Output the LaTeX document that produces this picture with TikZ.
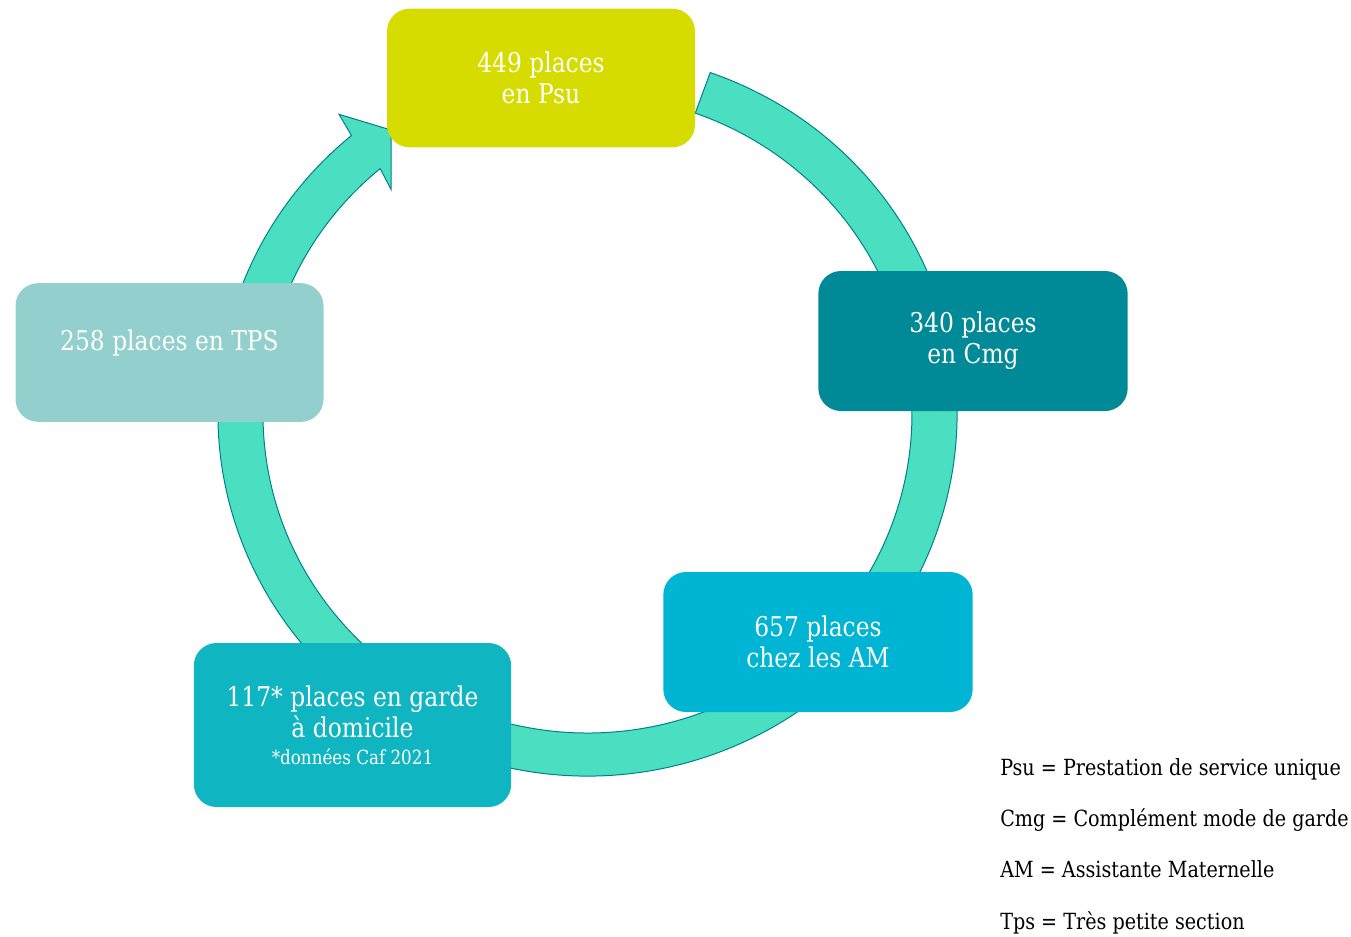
\documentclass[tikz,border=0pt]{standalone}
\usepackage{fontspec}
\setmainfont{DejaVu Serif}[FakeStretch=0.86]
\usepackage{tikz}
\usetikzlibrary{positioning}
\usepackage{xcolor}
\definecolor{psucol}{RGB}{214,220,0}
\definecolor{cmgcol}{RGB}{0,137,150}
\definecolor{amcol}{RGB}{0,180,212}
\definecolor{gardecol}{RGB}{16,181,194}
\definecolor{tpscol}{RGB}{146,207,205}
\definecolor{ringcol}{RGB}{73,223,192}
\definecolor{ringline}{RGB}{0,128,140}

\begin{document}
\begin{tikzpicture}[x=0.75pt, y=0.75pt,
		place/.style={rectangle, rounded corners=17pt, inner sep=0pt, minimum width=231pt, minimum height=104pt, align=center, text=white, font=\fontsize{20.4}{23.4}\selectfont},
		legend/.style={anchor=base west, inner sep=0pt, font=\fontsize{16.7}{19}\selectfont},
		ring/.style={fill=ringcol, draw=ringline, line width=0.75pt}]
		
		\useasboundingbox (0,0) rectangle (1351,-936);
		
		%ring
		\coordinate (c) at (587.5,-414);
		\coordinate (barbout) at (339,-114.3);
		\coordinate (tip) at (391,-130);
		\coordinate (barbin) at (391,-189.3);
		\coordinate (notchin) at (380.2,-168.6);
		\draw[ring] (c) ++(70.6:369.5 and 362) arc[start angle=70.6, end angle=-230.3, x radius=369.5, y radius=362]
			-- (barbout) -- (tip) -- (barbin) -- (notchin)
			arc[start angle=-230.3, end angle=70.6, x radius=324.5, y radius=319] -- cycle;
		
		%psu
		\node[place, fill=psucol] (psu) at (541,-78) {449 places\\en Psu};
		%cmg
		\node[place, fill=cmgcol, minimum width=232pt, minimum height=105pt] (cmg) at (973,-341) {340 places\\en Cmg};
		%am
		\node[place, fill=amcol, minimum width=232pt, minimum height=105pt] (am) at (818,-642) {657 places\\chez les AM};
		%garde
		\node[place, fill=gardecol, minimum width=238pt, minimum height=123pt] (garde) at (352.5,-725) {117* places en garde\\à domicile\\[-3pt]{\fontsize{14.6}{17}\selectfont *données Caf 2021}};
		%tps
		\node[place, fill=tpscol, text depth=18pt] (tps) at (169.5,-352.5) {258 places en TPS};
		
		%legend
		\node[legend] (lpsu) at (1000,-775) {Psu = Prestation de service unique};
		\node[legend, below=38.5pt of lpsu.base west, anchor=base west] (lcmg) {Cmg = Complément mode de garde};
		\node[legend, below=38.5pt of lcmg.base west, anchor=base west] (lam) {AM = Assistante Maternelle};
		\node[legend, below=38.5pt of lam.base west, anchor=base west] (ltps) {Tps = Très petite section};
		
\end{tikzpicture}
\end{document}
